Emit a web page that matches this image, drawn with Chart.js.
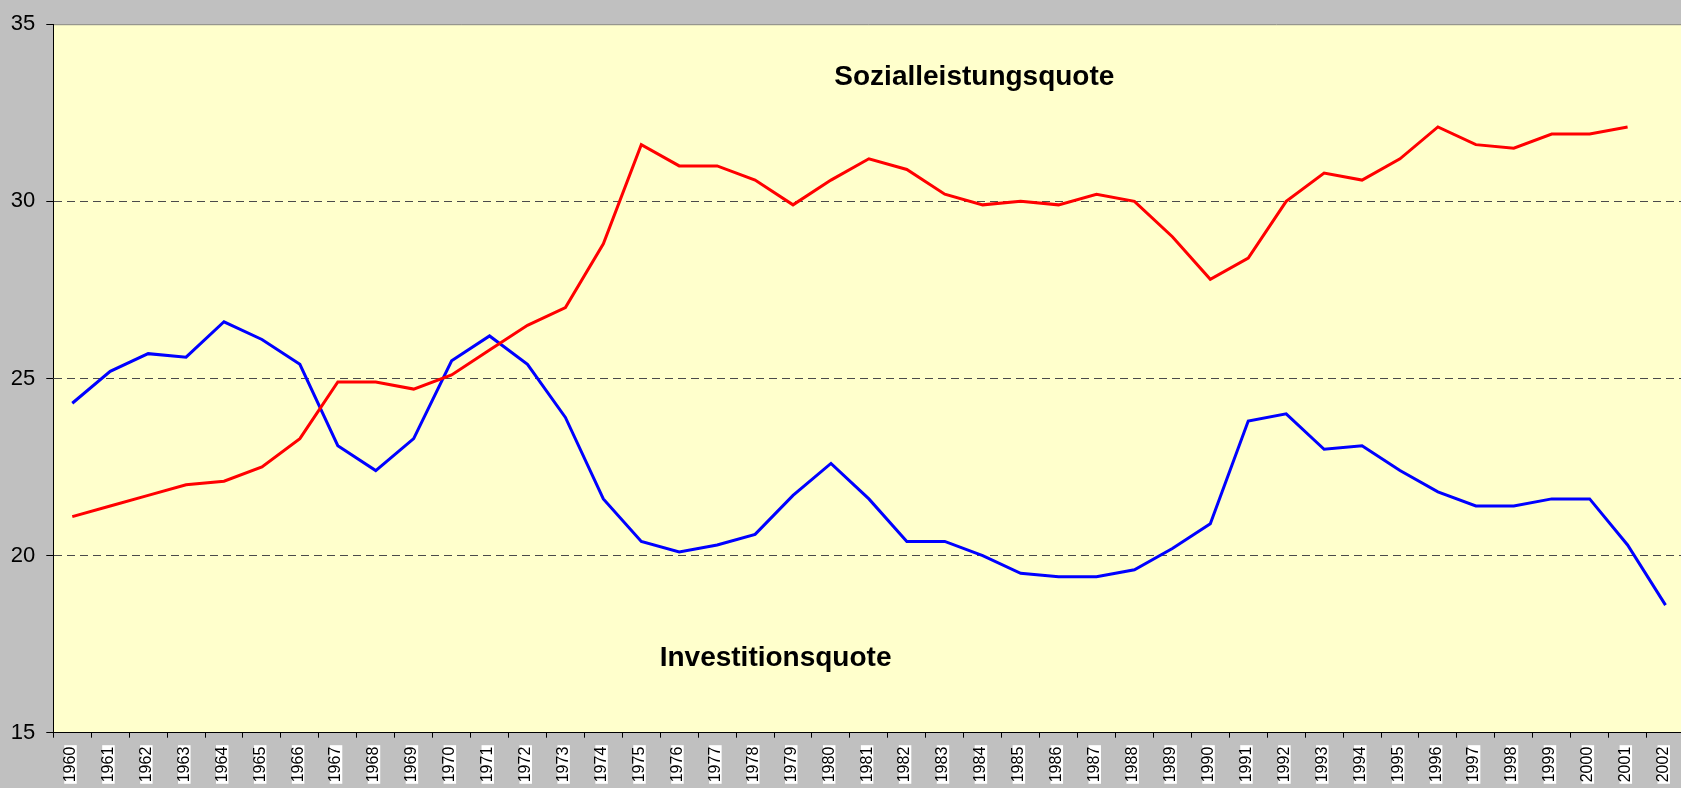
<!DOCTYPE html>
<html>
<head>
<meta charset="utf-8">
<script src="https://cdn.jsdelivr.net/npm/chart.js@4.4.1/dist/chart.umd.min.js"></script>
<style>
  html, body { margin: 0; padding: 0; background: #c0c0c0; overflow: hidden; }
  /* plot area runs a few px past the right edge in the original */
  #wrap { width: 1687px; height: 788px; }
</style>
</head>
<body>
<div id="wrap"><canvas id="myChart"></canvas></div>
<script>
// data
const years = [];
for (let y = 1960; y <= 2002; y++) years.push(String(y));

const sozialleistungsquote = [
    21.1, 21.4, 21.7, 22.0, 22.1, 22.5, 23.3, 24.9, 24.9, 24.7,
    25.1, 25.8, 26.5, 27.0, 28.8, 31.6, 31.0, 31.0, 30.6, 29.9,
    30.6, 31.2, 30.9, 30.2, 29.9, 30.0, 29.9, 30.2, 30.0, 29.0,
    27.8, 28.4, 30.0, 30.8, 30.6, 31.2, 32.1, 31.6, 31.5, 31.9,
    31.9, 32.1, null
];

const investitionsquote = [
    24.3, 25.2, 25.7, 25.6, 26.6, 26.1, 25.4, 23.1, 22.4, 23.3,
    25.5, 26.2, 25.4, 23.9, 21.6, 20.4, 20.1, 20.3, 20.6, 21.7,
    22.6, 21.6, 20.4, 20.4, 20.0, 19.5, 19.4, 19.4, 19.6, 20.2,
    20.9, 23.8, 24.0, 23.0, 23.1, 22.4, 21.8, 21.4, 21.4, 21.6,
    21.6, 20.3, 18.6
];

const yTicks = [15, 20, 25, 30, 35];

// plot background, top border and the two text boxes
const plotDeco = {
    id: 'plotDeco',
    beforeDraw(chart) {
        const { ctx, chartArea: a } = chart;
        ctx.save();
        ctx.fillStyle = '#ffffcc';
        ctx.fillRect(a.left, a.top, a.right - a.left, a.bottom - a.top);
        ctx.strokeStyle = '#808080';
        ctx.lineWidth = 1;
        ctx.beginPath();
        ctx.moveTo(a.left, a.top + 0.5);
        ctx.lineTo(a.right, a.top + 0.5);
        ctx.stroke();
        ctx.restore();
    },
    afterDatasetsDraw(chart, args, opts) {
        const { ctx, scales } = chart;
        ctx.save();
        ctx.font = 'bold 28px "Liberation Sans", Arial, sans-serif';
        ctx.fillStyle = '#000';
        ctx.textAlign = 'center';
        ctx.textBaseline = 'middle';
        opts.labels.forEach(l => {
            ctx.fillText(l.text, scales.x.getPixelForValue(l.at), scales.y.getPixelForValue(l.value));
        });
        ctx.restore();
    }
};

const data = {
    labels: years,
    datasets: [{
        label: 'Sozialleistungsquote',
        data: sozialleistungsquote,
        borderColor: '#ff0000',
        borderWidth: 3,
        pointRadius: 0,
        tension: 0
    }, {
        label: 'Investitionsquote',
        data: investitionsquote,
        borderColor: '#0000ff',
        borderWidth: 3,
        pointRadius: 0,
        tension: 0
    }]
};

const config = {
    type: 'line',
    data,
    plugins: [plotDeco],
    options: {
        responsive: true,
        maintainAspectRatio: false,
        animation: false,
        layout: { padding: { top: 21.5, left: 0, right: 0, bottom: 0 }, autoPadding: false },
        plugins: {
            legend: { display: false },
            tooltip: { enabled: false },
            plotDeco: {
                labels: [
                    { text: 'Sozialleistungsquote', at: 23.78, value: 33.49 },
                    { text: 'Investitionsquote', at: 18.54, value: 17.11 }
                ]
            }
        },
        scales: {
            x: {
                offset: true,
                grid: {
                    offset: true,
                    drawOnChartArea: false,
                    tickLength: 5,
                    tickColor: '#000'
                },
                border: { color: '#000', width: 1 },
                ticks: {
                    autoSkip: false,
                    minRotation: 90,
                    maxRotation: 90,
                    padding: 9,
                    labelOffset: -8,
                    color: '#000',
                    font: { family: '"Liberation Sans", Arial, sans-serif', size: 16, lineHeight: 0.78 },
                    showLabelBackdrop: true,
                    backdropColor: '#ffffff',
                    backdropPadding: { top: 0, bottom: 0, left: 1.5, right: 1.5 }
                },
                afterFit(scale) { scale.height = 55.3; }
            },
            y: {
                min: 15,
                max: 35,
                afterBuildTicks(scale) { scale.ticks = yTicks.map(v => ({ value: v })); },
                grid: {
                    color: ctx => (ctx.tick && (ctx.tick.value === 15 || ctx.tick.value === 35)) ? 'rgba(0,0,0,0)' : '#4a4a4a',
                    tickColor: '#000',
                    tickLength: 7
                },
                border: { color: '#000', width: 1, dash: [8, 5] },
                ticks: {
                    padding: 11,
                    color: '#000',
                    font: { family: '"Liberation Sans", Arial, sans-serif', size: 22 }
                },
                afterFit(scale) { scale.width = 53.3; }
            }
        }
    }
};

const myChart = new Chart(document.getElementById('myChart'), config);
</script>
</body>
</html>
